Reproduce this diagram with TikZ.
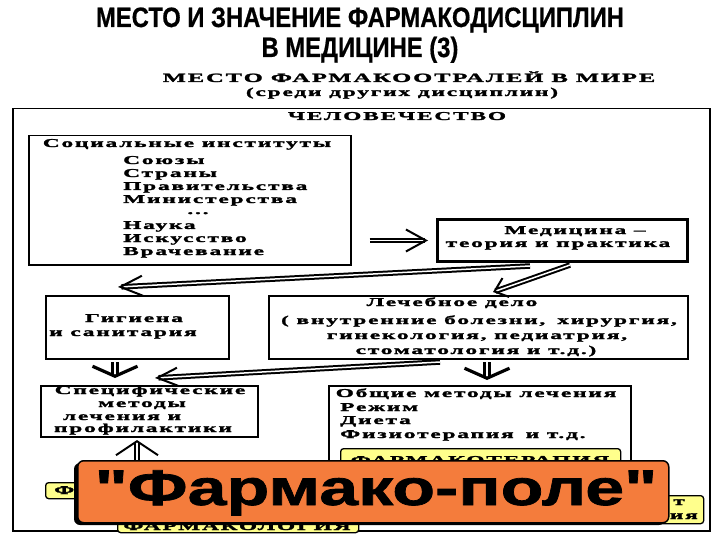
\documentclass[tikz,border=0pt]{standalone}
\usepackage{fontspec}
\usetikzlibrary{arrows.meta,calc}
\newfontfamily\bodyf[FakeStretch=1.95,LetterSpace=15,FakeBold=2]{Liberation Serif Bold}
\newfontfamily\titlef[FakeStretch=0.85,FakeBold=0.6]{Liberation Sans Bold}
\newfontfamily\bigf[FakeStretch=1.4,FakeBold=1.5]{Liberation Sans Bold}
\definecolor{orng}{RGB}{244,124,60}
\definecolor{ylw}{RGB}{255,255,140}
\begin{document}
\begin{tikzpicture}[x=1pt,y=-1pt,
 bt/.style={font=\bodyf\fontsize{12}{13}\selectfont, inner sep=0pt, anchor=base},
 btl/.style={bt, anchor=base west},
 box/.style={draw, line width=#1, inner sep=0pt, anchor=north west},
 box/.default=2pt,
 ybox/.style={draw, line width=1.3pt, fill=ylw, rounded corners=3pt, inner sep=0pt, anchor=north west},
 dbl/.style={double, double distance=1.5pt, line width=2pt},
 vdbl/.style={double, double distance=2pt, line width=3.2pt},
]
\useasboundingbox (0,0) rectangle (720,540);
\fill[white] (0,0) rectangle (720,540);
% titles
\node[font=\titlef\fontsize{28}{30}\selectfont, inner sep=0pt, anchor=base] (t1) at (360,27) {МЕСТО И ЗНАЧЕНИЕ ФАРМАКОДИСЦИПЛИН};
\node[font=\titlef\fontsize{28}{30}\selectfont, inner sep=0pt, anchor=base] (t2) at (360,57) {В МЕДИЦИНЕ (3)};
\node[bt, font=\bodyf\fontsize{12.6}{13}\selectfont] (st1) at (409,82) {МЕСТО ФАРМАКООТРАЛЕЙ В МИРЕ};
\node[bt] (st2) at (402,96) {(среди других дисциплин)};
% frame
\node[box=1.5pt, minimum width=697pt, minimum height=422pt] (frame) at (12,108) {};
\node[bt] (hum) at (397,120) {ЧЕЛОВЕЧЕСТВО};
% social institutes
\node[box=1.5pt, minimum width=322pt, minimum height=129pt] (soc) at (28,135) {};
\node[bt] (soch) at (187,147) {Социальные институты};
\node[btl] (s1) at (123,164) {Союзы};
\node[btl] (s2) at (123,177) {Страны};
\node[btl] (s3) at (123,190) {Правительства};
\node[btl] (s4) at (123,203) {Министерства};
\node[bt] (s5) at (198,214) {...};
\node[btl] (s6) at (123,229) {Наука};
\node[btl] (s7) at (123,242) {Искусство};
\node[btl] (s8) at (123,255) {Врачевание};
% medicine
\node[box=3pt, minimum width=250pt, minimum height=42pt] (med) at (436,218) {};
\node[bt] (m1) at (575,234) {Медицина –};
\node[bt] (m2) at (558,247) {теория и практика};
% hygiene
\node[box=2pt, minimum width=183pt, minimum height=63pt] (hyg) at (45,295) {};
\node[bt] (h1) at (134,322) {Гигиена};
\node[bt] (h2) at (123,336) {и санитария};
% treatment
\node[box=2pt, minimum width=419pt, minimum height=63pt] (tre) at (268,295) {};
\node[bt] (r1) at (452,306) {Лечебное дело};
\node[bt] (r2) at (479,324) {( внутренние болезни,\quad хирургия,};
\node[bt] (r3) at (477,339) {гинекология, педиатрия,};
\node[bt] (r4) at (476,354) {стоматология и т.д.)};
% specific methods
\node[box=2pt, minimum width=217pt, minimum height=51pt] (spec) at (40,385) {};
\node[bt] (p1) at (150,394) {Специфические};
\node[bt] (p2) at (142,407) {методы};
\node[bt] (p3) at (122,420) {лечения и};
\node[bt] (p4) at (143,432) {профилактики};
% general methods
\node[box=2pt, minimum width=302pt, minimum height=120pt] (gen) at (328,385) {};
\node[bt] (g1) at (476,397) {Общие методы лечения};
\node[btl] (g2) at (340,411) {Режим};
\node[btl] (g3) at (340,424) {Диета};
\node[btl] (g4) at (340,438) {Физиотерапия\quad и т.д.};
% arrows
\draw[dbl, -{Straight Barb[length=20pt,width=22pt]}, shorten >=8pt] ([xshift=18pt]soc.east |- med.west) -- (med.west);
\coordinate (a1s) at (530,266);
\coordinate (a1e) at (118,287);
\draw[dbl, -{Straight Barb[length=22pt,width=20pt]}] (a1s) -- (a1e);
\coordinate (a2s) at (570,265);
\coordinate (a2e) at (493,292);
\draw[dbl, -{Straight Barb[length=12pt,width=20pt]}] (a2s) -- (a2e);
\draw[vdbl, -{Straight Barb[length=10pt,width=45pt]}] ($(hyg.south west)+(70,2)$) -- ($(spec.north west)+(75,-7)$);
\coordinate (a3s) at (440,362);
\coordinate (a3e) at (155,378);
\draw[dbl, -{Straight Barb[length=20pt,width=18pt]}] (a3s) -- (a3e);
\draw[vdbl, -{Straight Barb[length=10pt,width=45pt]}] ($(tre.south west)+(219,2)$) -- ($(gen.north west)+(159,-5)$);
% yellow boxes
\node[ybox, minimum width=280pt, minimum height=24pt] (fther) at (340,448) {};
\node[bt] (fthert) at (480,464) {ФАРМАКОТЕРАПИЯ};
\node[ybox, minimum width=70pt, minimum height=16pt] (fleft) at (45,482) {};
\node[btl] (flt) at (54,494) {Ф};
\node[ybox, minimum width=253pt, minimum height=28pt] (fright) at (450,495) {};
\node[bt, anchor=base east] (fr1) at (685,505) {т};
\node[bt, anchor=base east] (fr2) at (698,519) {ия};
\node[ybox, minimum width=241pt, minimum height=22pt] (fpharm) at (117,510) {};
\node[bt] (fpt) at (237,530) {ФАРМАКОЛОГИЯ};
\draw[vdbl, line width=2pt, -{Straight Barb[length=14pt,width=42pt]}] ($(fpharm.north west)+(20,0)$) -- ($(spec.south west)+(97,2)$);
\draw[dbl] (fpharm.east) -- (fright.west);
% pharmaco-field
\fill[black, rounded corners=6pt] (74,463) rectangle (665,525);
\node[fill=orng, draw, line width=1.5pt, rounded corners=6pt, minimum width=591pt, minimum height=62pt, inner sep=0pt, anchor=north west] (pole) at (77,460) {};
\node[font=\bigf\fontsize{50}{54}\selectfont, inner sep=0pt, anchor=base] (polet) at (376,505) {"Фармако-поле"};
\end{tikzpicture}
\end{document}
